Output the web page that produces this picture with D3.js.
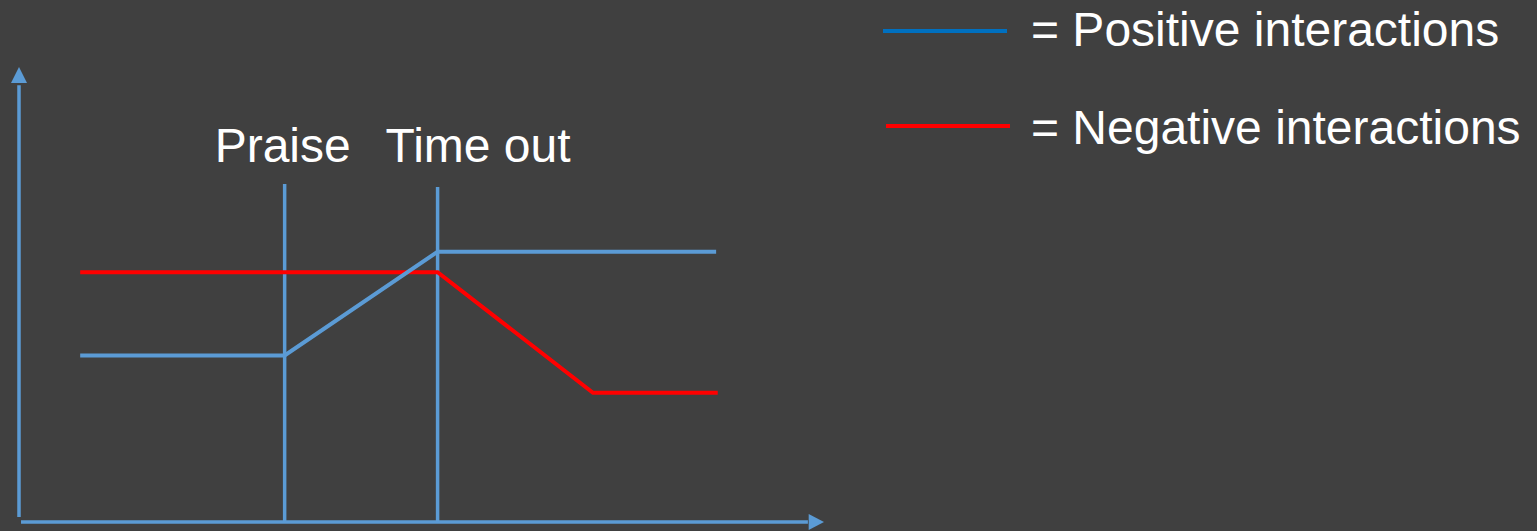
<!DOCTYPE html>
<html>
<head>
<meta charset="utf-8">
<script src="https://cdn.jsdelivr.net/npm/d3@7"></script>
<style>
  html, body { margin: 0; padding: 0; background: #404040; overflow: hidden; }
  svg { display: block; }
  text { font-family: "Liberation Sans", Arial, sans-serif; fill: #ffffff; }
</style>
</head>
<body>
<svg id="chart" width="1537" height="531"></svg>
<script>
// ---- data (x: time 0-100, y: level of interactions 0-100) ----
const positiveX = [7.6, 33.0, 52.0, 86.6];
const positiveY = [36.6, 36.6, 59.4, 59.4];
const negativeX = [7.6, 52.0, 71.3, 86.8];
const negativeY = [54.9, 54.9, 28.4, 28.4];
const eventNames = ["Praise", "Time out"];
const eventX = [33.0, 52.0];
const eventTop = [74.3, 73.6];
const legendLabels = ["= Positive interactions", "= Negative interactions"];
const legendColors = ["#0070c0", "#ff0000"];

const axisColor = "#5b9bd5";
const svg = d3.select("#chart");
const x = d3.scaleLinear().domain([0, 100]).range([19, 824]);
const y = d3.scaleLinear().domain([0, 100]).range([522, 67]);

// axes
svg.append("line").attr("x1", x(0)).attr("x2", x(0))
  .attr("y1", y(1.1)).attr("y2", y(96))
  .attr("stroke", axisColor).attr("stroke-width", 3.5);
svg.append("path")
  .attr("d", `M${x(0)},${y(100)} L${x(0) - 8},${y(96.5)} L${x(0) + 8},${y(96.5)} Z`)
  .attr("fill", axisColor);
svg.append("line").attr("x1", x(0.25)).attr("x2", x(98))
  .attr("y1", y(0)).attr("y2", y(0))
  .attr("stroke", axisColor).attr("stroke-width", 3.5);
svg.append("path")
  .attr("d", `M${x(100)},${y(0)} L${x(98.1)},${y(0) - 8} L${x(98.1)},${y(0) + 8} Z`)
  .attr("fill", axisColor);

// event lines + labels
svg.selectAll(".event").data(eventX).join("line")
  .attr("class", "event")
  .attr("x1", d => x(d)).attr("x2", d => x(d))
  .attr("y1", (d, i) => y(eventTop[i])).attr("y2", y(0))
  .attr("stroke", axisColor).attr("stroke-width", 3.5);
svg.selectAll(".elabel").data(eventNames).join("text")
  .attr("class", "elabel")
  .attr("x", (d, i) => i === 0 ? x(eventX[i]) - 70 : x(eventX[i]) - 52)
  .attr("y", 162)
  .attr("font-size", 48)
  .text(d => d);

// series
const line = d3.line().x(d => x(d[0])).y(d => y(d[1]));
svg.append("path")
  .attr("d", line(d3.zip(negativeX, negativeY)))
  .attr("fill", "none").attr("stroke", "#ff0000").attr("stroke-width", 4);
svg.append("path")
  .attr("d", line(d3.zip(positiveX, positiveY)))
  .attr("fill", "none").attr("stroke", axisColor).attr("stroke-width", 4);

// legend
const legY = [31, 126];
const legX1 = [883, 886];
const legX2 = [1007, 1010];
const lg = svg.append("g");
lg.selectAll("line").data(legendLabels).join("line")
  .attr("x1", (d, i) => legX1[i]).attr("x2", (d, i) => legX2[i])
  .attr("y1", (d, i) => legY[i]).attr("y2", (d, i) => legY[i])
  .attr("stroke", (d, i) => legendColors[i]).attr("stroke-width", 4);
lg.selectAll("text").data(legendLabels).join("text")
  .attr("x", 1031)
  .attr("y", (d, i) => [46, 144][i])
  .attr("font-size", 48)
  .text(d => d);
</script>
</body>
</html>
